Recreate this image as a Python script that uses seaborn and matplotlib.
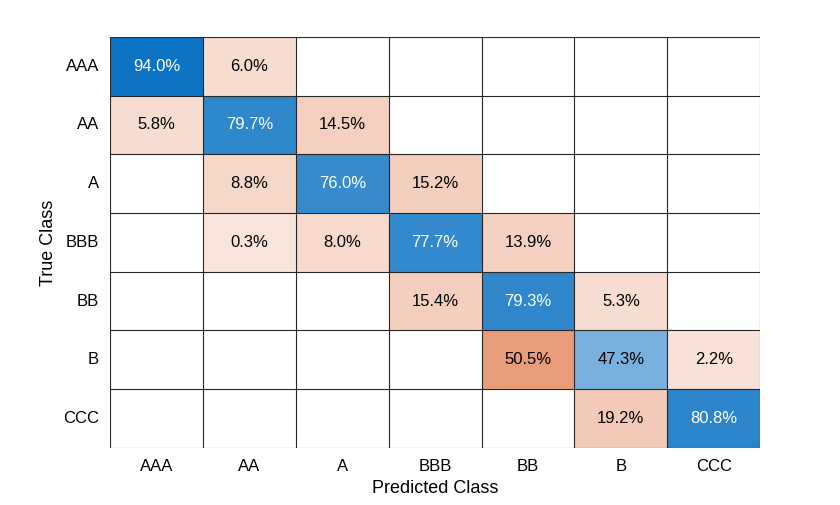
import numpy as np
import pandas as pd
import matplotlib
matplotlib.use("Agg")
import matplotlib.pyplot as plt
import seaborn as sns
from matplotlib.colors import LinearSegmentedColormap

classes = ["AAA", "AA", "A", "BBB", "BB", "B", "CCC"]
values = [
    [94.0, 6.0, 0, 0, 0, 0, 0],
    [5.8, 79.7, 14.5, 0, 0, 0, 0],
    [0, 8.8, 76.0, 15.2, 0, 0, 0],
    [0, 0.3, 8.0, 77.7, 13.9, 0, 0],
    [0, 0, 0, 15.4, 79.3, 5.3, 0],
    [0, 0, 0, 0, 50.5, 47.3, 2.2],
    [0, 0, 0, 0, 0, 19.2, 80.8],
]

plt.rcParams['font.family'] = ['Liberation Sans', 'DejaVu Sans']
df = pd.DataFrame(values, index=classes, columns=classes)
arr = df.values
n = len(classes)
eye = np.eye(n, dtype=bool)

blue = LinearSegmentedColormap.from_list("b", [(1, 1, 1), (0.0, 0.42, 0.75)])
orange = LinearSegmentedColormap.from_list("o", [(1, 1, 1), (0.85, 0.33, 0.10)])

fig = plt.figure(figsize=(8.4, 5.05), dpi=100)
ax = fig.add_axes([0.131, 0.113, 0.774, 0.814])

sns.heatmap(df, mask=~eye, cmap=blue, vmin=-11, vmax=100, cbar=False, ax=ax)
sns.heatmap(df, mask=eye | (arr == 0), cmap=orange, vmin=-18, vmax=100, cbar=False, ax=ax)

for i in range(n):
    for j in range(n):
        v = arr[i, j]
        if v > 0:
            col = "white" if (i == j and v > 60) else "black"
            ax.text(j + 0.5, i + 0.5, f"{v:.1f}%", ha="center", va="center",
                    fontsize=12, color=col)

for k in range(n + 1):
    ax.axhline(k, color="#262626", lw=0.8)
    ax.axvline(k, color="#262626", lw=0.8)

ax.set_xlim(0, n)
ax.set_ylim(n, 0)
ax.set_xticks(np.arange(n) + 0.5)
ax.set_xticklabels(classes, fontsize=12, rotation=0)
ax.set_yticks(np.arange(n) + 0.5)
ax.set_yticklabels(classes, fontsize=12, rotation=0)
ax.tick_params(length=0, pad=8)
ax.set_xlabel("Predicted Class", fontsize=13)
ax.set_ylabel("True Class", fontsize=13)
fig.savefig("out.png", dpi=100, facecolor="white")
